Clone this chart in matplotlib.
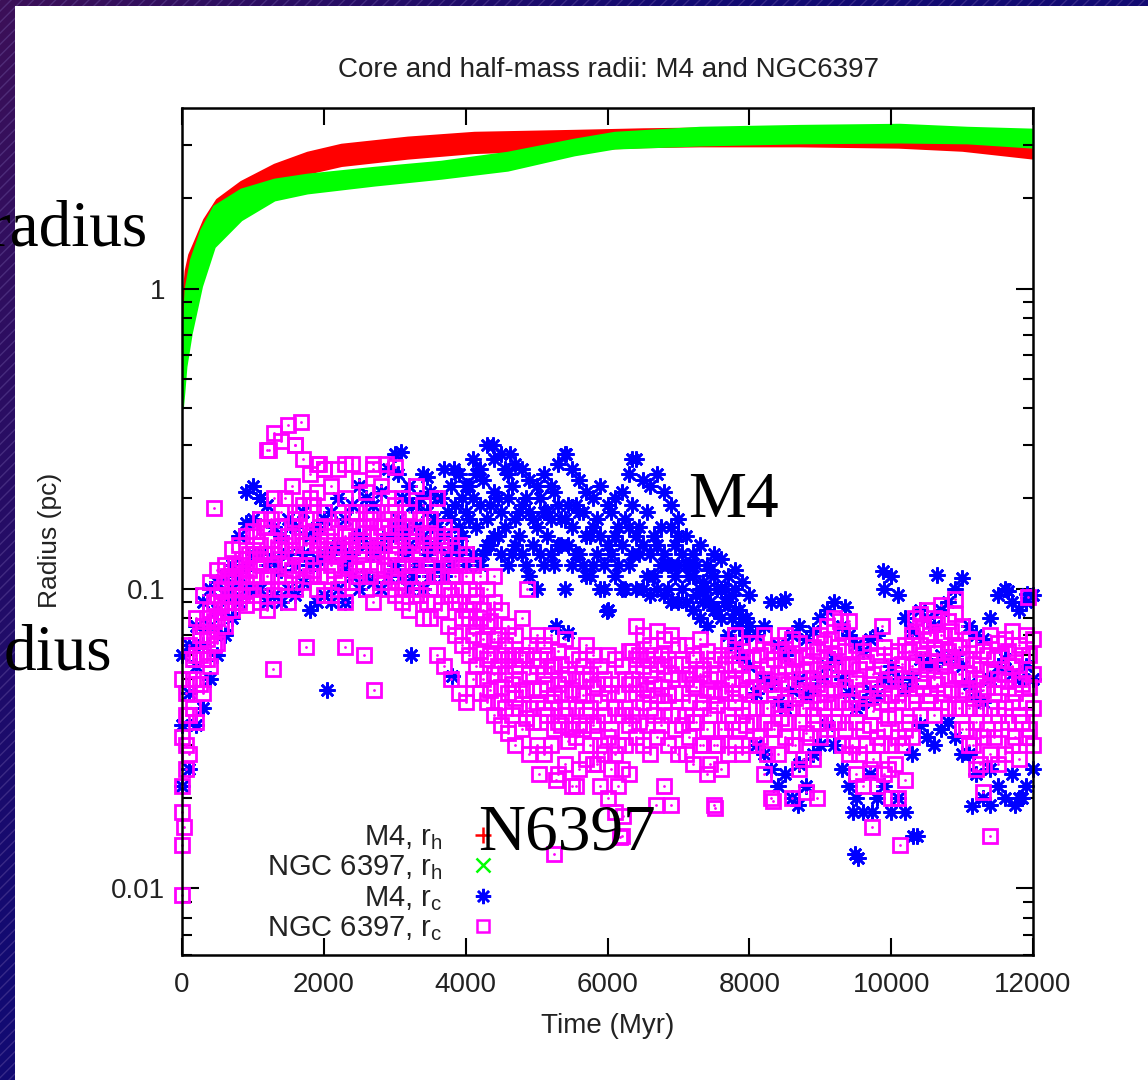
# Core and half-mass radii of M4 and NGC 6397 (gnuplot style slide)

import numpy as np
import matplotlib.pyplot as plt
from matplotlib.patches import Rectangle
from matplotlib.lines import Line2D
from matplotlib.ticker import FixedLocator, NullFormatter, FixedFormatter

plt.rcParams['font.family'] = ['Liberation Sans', 'DejaVu Sans']

# half-mass radius bands (lower / upper edge of the dense point band), pc
m4_rh_t = [0, 20, 50, 100, 170, 310, 490, 830, 1300, 1765, 2245, 3180, 4120,
           5530, 6500, 7300, 8700, 10100, 11000, 12000]
m4_rh_hi = [0.62, 0.95, 1.15, 1.30, 1.42, 1.70, 1.98, 2.27, 2.59, 2.84, 3.02,
            3.19, 3.31, 3.36, 3.40, 3.42, 3.44, 3.42, 3.38, 3.30]
m4_rh_lo = [0.55, 0.80, 0.98, 1.12, 1.22, 1.45, 1.70, 1.95, 2.22, 2.43, 2.58,
            2.73, 2.85, 2.92, 2.98, 3.00, 3.00, 2.97, 2.90, 2.73]

n6397_rh_t = [0, 20, 50, 125, 270, 450, 830, 1300, 1765, 2710, 3650, 4590,
              5530, 6100, 7300, 8710, 10120, 11070, 12000]
n6397_rh_hi = [0.48, 0.75, 1.00, 1.25, 1.57, 1.88, 2.14, 2.31, 2.40, 2.53, 2.65,
               2.84, 3.14, 3.31, 3.44, 3.49, 3.52, 3.44, 3.39]
n6397_rh_lo = [0.40, 0.45, 0.55, 0.71, 1.02, 1.38, 1.70, 1.98, 2.09, 2.22, 2.34,
               2.49, 2.80, 2.95, 3.02, 3.07, 3.09, 3.07, 2.97]

# core radius snapshots, every 100 Myr (0..12000) and offset ones (50..11950)
t_grid = np.arange(0, 12001, 100)
t_half = np.arange(50, 12000, 100)
t_cloud = np.arange(3050, 8000, 100)

m4_rc_a = [0.06, 0.065, 0.075, 0.09, 0.1, 0.105, 0.11, 0.12, 0.15, 0.165, 0.17,
           0.2, 0.19, 0.16, 0.15, 0.17, 0.16, 0.18, 0.15, 0.16, 0.17,
           0.18, 0.2, 0.17, 0.19, 0.22, 0.2, 0.19, 0.21, 0.25, 0.28,
           0.2, 0.22, 0.19, 0.24, 0.21, 0.2, 0.25, 0.22, 0.24, 0.22,
           0.27, 0.25, 0.3, 0.27, 0.28, 0.24, 0.26, 0.25, 0.23, 0.22,
           0.24, 0.22, 0.26, 0.28, 0.25, 0.23, 0.21, 0.2, 0.22, 0.19,
           0.2, 0.21, 0.24, 0.27, 0.23, 0.22, 0.24, 0.21, 0.19, 0.17,
           0.15, 0.13, 0.14, 0.12, 0.13, 0.125, 0.11, 0.1, 0.105, 0.095,
           0.07, 0.075, 0.09, 0.065, 0.06, 0.07, 0.075, 0.068, 0.072, 0.08,
           0.085, 0.09, 0.075, 0.07, 0.065, 0.062, 0.068, 0.07, 0.1, 0.11,
           0.095, 0.08, 0.072, 0.085, 0.08, 0.075, 0.085, 0.09, 0.1, 0.108,
           0.075, 0.07, 0.068, 0.08, 0.095, 0.1, 0.09, 0.085, 0.09, 0.095]
m4_rc_b = [0.035, 0.045, 0.055, 0.065, 0.075, 0.085, 0.095, 0.1, 0.11, 0.12, 0.13,
           0.13, 0.12, 0.125, 0.115, 0.13, 0.12, 0.13, 0.12, 0.125, 0.13,
           0.13, 0.14, 0.12, 0.13, 0.15, 0.14, 0.13, 0.14, 0.15, 0.16,
           0.15, 0.14, 0.16, 0.15, 0.14, 0.16, 0.15, 0.17, 0.16, 0.18,
           0.2, 0.19, 0.17, 0.21, 0.18, 0.2, 0.17, 0.19, 0.18, 0.16,
           0.18, 0.17, 0.19, 0.17, 0.16, 0.18, 0.15, 0.16, 0.15, 0.14,
           0.15, 0.14, 0.16, 0.15, 0.14, 0.13, 0.14, 0.13, 0.12, 0.12,
           0.12, 0.11, 0.1, 0.1, 0.11, 0.1, 0.09, 0.085, 0.08, 0.075,
           0.045, 0.05, 0.048, 0.042, 0.04, 0.046, 0.05, 0.044, 0.046, 0.05,
           0.055, 0.058, 0.05, 0.045, 0.04, 0.042, 0.046, 0.044, 0.05, 0.055,
           0.05, 0.046, 0.05, 0.058, 0.056, 0.055, 0.06, 0.058, 0.06, 0.055,
           0.048, 0.044, 0.042, 0.05, 0.055, 0.058, 0.052, 0.05, 0.055, 0.05]
m4_rc_c = [0.022, 0.025, 0.035, 0.04, 0.05, 0.06, 0.07, 0.08, 0.09, 0.1, 0.1,
           0.1, 0.09, 0.095, 0.09, 0.1, 0.095, 0.105, 0.085, 0.09, 0.095,
           0.09, 0.1, 0.09, 0.11, 0.1, 0.11, 0.105, 0.1, 0.11, 0.12,
           0.11, 0.1, 0.12, 0.1, 0.11, 0.12, 0.11, 0.12, 0.13, 0.12,
           0.13, 0.12, 0.14, 0.15, 0.13, 0.12, 0.14, 0.13, 0.11, 0.1,
           0.12, 0.13, 0.14, 0.1, 0.12, 0.13, 0.11, 0.12, 0.1, 0.085,
           0.11, 0.1, 0.12, 0.1, 0.1, 0.095, 0.1, 0.095, 0.09, 0.09,
           0.09, 0.085, 0.08, 0.075, 0.085, 0.08, 0.07, 0.065, 0.06, 0.055,
           0.03, 0.028, 0.025, 0.022, 0.024, 0.02, 0.026, 0.022, 0.028, 0.03,
           0.035, 0.03, 0.025, 0.022, 0.02, 0.018, 0.024, 0.02, 0.022, 0.018,
           0.02, 0.018, 0.028, 0.035, 0.032, 0.03, 0.034, 0.036, 0.032, 0.028,
           0.028, 0.024, 0.02, 0.025, 0.022, 0.02, 0.024, 0.02, 0.022, 0.025]
m4_rc_cloud = [0.17, 0.13, 0.19, 0.12, 0.18, 0.14, 0.2, 0.13, 0.19, 0.15,
               0.22, 0.16, 0.23, 0.14, 0.2, 0.16, 0.22, 0.15, 0.2, 0.14,
               0.2, 0.15, 0.21, 0.14, 0.19, 0.13, 0.18, 0.11, 0.17, 0.12,
               0.18, 0.12, 0.17, 0.19, 0.13, 0.18, 0.11, 0.16, 0.12, 0.14,
               0.13, 0.11, 0.12, 0.09, 0.115, 0.1, 0.09, 0.08, 0.085, 0.07]
m4_rc_cloud2 = [0.24, 0.16, 0.11, 0.2, 0.13, 0.17, 0.12, 0.18, 0.14, 0.2,
                0.17, 0.24, 0.13, 0.19, 0.15, 0.25, 0.13, 0.18, 0.12, 0.17,
                0.13, 0.18, 0.12, 0.17, 0.14, 0.19, 0.12, 0.15, 0.13, 0.1,
                0.13, 0.16, 0.1, 0.13, 0.16, 0.11, 0.15, 0.12, 0.1, 0.11,
                0.1, 0.12, 0.095, 0.105, 0.09, 0.085, 0.1, 0.095, 0.075, 0.08]
m4_rc_odd_t = [900, 1000, 1100, 2050, 3090, 3230, 3460, 3810, 3840, 4380, 4620,
               5280, 5420, 5450, 5990, 6340, 6900, 7000, 7800, 8450, 8500, 8680,
               9350, 9460, 9490, 9530, 9730, 9890, 10310, 10370, 10650, 11140,
               11400, 11650, 11750, 11850, 11920]
m4_rc_odd = [0.21, 0.22, 0.2, 0.046, 0.286, 0.06, 0.235, 0.051, 0.25, 0.3, 0.28,
             0.075, 0.28, 0.071, 0.084, 0.27, 0.16, 0.15, 0.115, 0.09, 0.092, 0.019,
             0.087, 0.018, 0.013, 0.0126, 0.018, 0.114, 0.015, 0.015, 0.111, 0.0188,
             0.019, 0.098, 0.019, 0.02, 0.096]

n6397_rc_a = [0.05, 0.065, 0.08, 0.095, 0.105, 0.115, 0.12, 0.135, 0.14, 0.15, 0.155,
              0.17, 0.29, 0.33, 0.31, 0.35, 0.3, 0.27, 0.24, 0.26, 0.25,
              0.22, 0.25, 0.2, 0.26, 0.23, 0.21, 0.25, 0.22, 0.2, 0.19,
              0.2, 0.18, 0.22, 0.19, 0.17, 0.2, 0.16, 0.15, 0.14, 0.13,
              0.12, 0.11, 0.1, 0.09, 0.085, 0.075, 0.07, 0.08, 0.065, 0.07,
              0.065, 0.07, 0.062, 0.068, 0.06, 0.058, 0.065, 0.06, 0.055, 0.06,
              0.058, 0.055, 0.062, 0.075, 0.07, 0.065, 0.072, 0.068, 0.07, 0.065,
              0.065, 0.06, 0.068, 0.062, 0.058, 0.06, 0.065, 0.07, 0.062, 0.066,
              0.066, 0.07, 0.062, 0.065, 0.07, 0.068, 0.066, 0.06, 0.064, 0.07,
              0.075, 0.08, 0.072, 0.078, 0.065, 0.062, 0.066, 0.06, 0.064, 0.06,
              0.062, 0.065, 0.07, 0.082, 0.085, 0.08, 0.088, 0.078, 0.082, 0.075,
              0.068, 0.065, 0.062, 0.07, 0.066, 0.068, 0.072, 0.065, 0.07, 0.068]
n6397_rc_b = [0.032, 0.05, 0.06, 0.075, 0.085, 0.095, 0.105, 0.11, 0.12, 0.125, 0.13,
              0.14, 0.16, 0.2, 0.18, 0.15, 0.17, 0.19, 0.2, 0.21, 0.18,
              0.16, 0.17, 0.15, 0.18, 0.16, 0.17, 0.18, 0.16, 0.17, 0.16,
              0.15, 0.14, 0.16, 0.15, 0.14, 0.15, 0.13, 0.12, 0.12, 0.11,
              0.09, 0.08, 0.075, 0.068, 0.06, 0.058, 0.055, 0.06, 0.052, 0.055,
              0.052, 0.055, 0.048, 0.05, 0.046, 0.045, 0.05, 0.047, 0.042, 0.045,
              0.04, 0.038, 0.048, 0.058, 0.055, 0.052, 0.056, 0.055, 0.052, 0.05,
              0.05, 0.048, 0.052, 0.046, 0.044, 0.046, 0.05, 0.054, 0.05, 0.052,
              0.052, 0.05, 0.048, 0.052, 0.055, 0.053, 0.05, 0.046, 0.05, 0.054,
              0.058, 0.06, 0.056, 0.055, 0.05, 0.046, 0.048, 0.045, 0.048, 0.044,
              0.045, 0.048, 0.055, 0.065, 0.068, 0.064, 0.07, 0.062, 0.065, 0.058,
              0.052, 0.05, 0.046, 0.053, 0.05, 0.052, 0.055, 0.05, 0.054, 0.052]
n6397_rc_c = [0.022, 0.038, 0.048, 0.058, 0.07, 0.08, 0.09, 0.1, 0.1, 0.105, 0.11,
              0.12, 0.11, 0.13, 0.14, 0.12, 0.13, 0.14, 0.15, 0.14, 0.13,
              0.12, 0.13, 0.12, 0.14, 0.13, 0.14, 0.13, 0.14, 0.12, 0.13,
              0.12, 0.11, 0.12, 0.11, 0.1, 0.11, 0.1, 0.095, 0.09, 0.085,
              0.07, 0.062, 0.058, 0.052, 0.047, 0.045, 0.043, 0.046, 0.04, 0.042,
              0.04, 0.042, 0.036, 0.038, 0.034, 0.035, 0.038, 0.035, 0.03, 0.032,
              0.028, 0.025, 0.035, 0.045, 0.042, 0.04, 0.044, 0.042, 0.038, 0.038,
              0.038, 0.036, 0.04, 0.034, 0.03, 0.034, 0.038, 0.042, 0.038, 0.04,
              0.04, 0.036, 0.034, 0.04, 0.042, 0.04, 0.036, 0.033, 0.038, 0.042,
              0.045, 0.046, 0.042, 0.04, 0.036, 0.034, 0.035, 0.032, 0.034, 0.03,
              0.032, 0.034, 0.042, 0.05, 0.054, 0.05, 0.055, 0.05, 0.052, 0.045,
              0.04, 0.036, 0.032, 0.04, 0.038, 0.04, 0.042, 0.038, 0.042, 0.04]
n6397_rc_d = [0.014, 0.028, 0.036, 0.045, 0.055, 0.066, 0.075, 0.085, 0.09, 0.088, 0.095,
              0.09, 0.085, 0.095, 0.1, 0.09, 0.1, 0.105, 0.11, 0.1, 0.095,
              0.095, 0.1, 0.09, 0.105, 0.11, 0.1, 0.09, 0.105, 0.1, 0.095,
              0.09, 0.085, 0.095, 0.08, 0.08, 0.06, 0.055, 0.05, 0.045, 0.042,
              0.05, 0.045, 0.042, 0.038, 0.035, 0.033, 0.03, 0.034, 0.028, 0.03,
              0.028, 0.03, 0.024, 0.026, 0.022, 0.025, 0.027, 0.026, 0.022, 0.02,
              0.018, 0.015, 0.024, 0.032, 0.03, 0.028, 0.032, 0.022, 0.019, 0.028,
              0.028, 0.026, 0.03, 0.024, 0.019, 0.025, 0.028, 0.03, 0.028, 0.03,
              0.03, 0.024, 0.02, 0.028, 0.032, 0.03, 0.025, 0.021, 0.027, 0.032,
              0.034, 0.036, 0.03, 0.028, 0.024, 0.022, 0.025, 0.022, 0.024, 0.02,
              0.02, 0.023, 0.032, 0.038, 0.042, 0.038, 0.042, 0.04, 0.04, 0.034,
              0.03, 0.025, 0.021, 0.028, 0.026, 0.028, 0.03, 0.027, 0.032, 0.03]
n6397_rc_e = [0.045, 0.058, 0.07, 0.08, 0.09, 0.1, 0.11, 0.12, 0.125, 0.13,
              0.15, 0.16, 0.17, 0.16, 0.2, 0.22, 0.18, 0.17, 0.19, 0.16,
              0.15, 0.14, 0.17, 0.15, 0.18, 0.16, 0.17, 0.15, 0.16, 0.18,
              0.17, 0.16, 0.14, 0.17, 0.15, 0.13, 0.14, 0.12, 0.11, 0.1,
              0.1, 0.095, 0.085, 0.078, 0.07, 0.065, 0.06, 0.058, 0.06, 0.058,
              0.058, 0.06, 0.055, 0.056, 0.052, 0.05, 0.055, 0.052, 0.048, 0.05,
              0.048, 0.045, 0.05, 0.062, 0.06, 0.058, 0.06, 0.06, 0.058, 0.056,
              0.056, 0.052, 0.058, 0.054, 0.05, 0.052, 0.056, 0.06, 0.056, 0.058,
              0.058, 0.06, 0.055, 0.058, 0.062, 0.06, 0.058, 0.053, 0.056, 0.062,
              0.066, 0.068, 0.064, 0.062, 0.056, 0.054, 0.057, 0.052, 0.055, 0.05,
              0.052, 0.056, 0.062, 0.072, 0.075, 0.07, 0.076, 0.07, 0.072, 0.064,
              0.058, 0.056, 0.054, 0.06, 0.058, 0.06, 0.062, 0.057, 0.06, 0.06]
n6397_rc_f = [0.03, 0.04, 0.048, 0.058, 0.065, 0.075, 0.085, 0.09, 0.095, 0.1,
              0.11, 0.1, 0.12, 0.11, 0.105, 0.115, 0.12, 0.12, 0.115, 0.11,
              0.11, 0.115, 0.105, 0.12, 0.115, 0.12, 0.11, 0.12, 0.115, 0.11,
              0.105, 0.1, 0.1, 0.095, 0.09, 0.09, 0.085, 0.075, 0.07, 0.065,
              0.06, 0.055, 0.05, 0.046, 0.042, 0.04, 0.038, 0.04, 0.037, 0.036,
              0.036, 0.038, 0.034, 0.035, 0.031, 0.032, 0.034, 0.03, 0.026, 0.028,
              0.025, 0.022, 0.03, 0.038, 0.036, 0.035, 0.038, 0.035, 0.03, 0.034,
              0.035, 0.032, 0.036, 0.03, 0.026, 0.03, 0.034, 0.036, 0.034, 0.035,
              0.036, 0.032, 0.028, 0.034, 0.037, 0.036, 0.03, 0.027, 0.032, 0.036,
              0.04, 0.042, 0.036, 0.034, 0.03, 0.028, 0.03, 0.027, 0.03, 0.025,
              0.026, 0.03, 0.036, 0.044, 0.047, 0.044, 0.048, 0.045, 0.046, 0.04,
              0.034, 0.03, 0.026, 0.034, 0.032, 0.034, 0.036, 0.032, 0.036, 0.034]
n6397_rc_g = [0.038, 0.05, 0.06, 0.068, 0.078, 0.088, 0.095, 0.105, 0.11, 0.115,
              0.13, 0.13, 0.145, 0.135, 0.14, 0.15, 0.16, 0.14, 0.155, 0.145,
              0.135, 0.13, 0.14, 0.135, 0.145, 0.14, 0.15, 0.135, 0.14, 0.145,
              0.14, 0.13, 0.12, 0.13, 0.12, 0.11, 0.11, 0.1, 0.09, 0.08,
              0.08, 0.075, 0.068, 0.06, 0.055, 0.052, 0.048, 0.05, 0.046, 0.046,
              0.046, 0.048, 0.044, 0.045, 0.04, 0.04, 0.044, 0.04, 0.036, 0.038,
              0.034, 0.03, 0.04, 0.05, 0.048, 0.046, 0.048, 0.047, 0.044, 0.045,
              0.045, 0.042, 0.047, 0.042, 0.038, 0.041, 0.045, 0.048, 0.045, 0.046,
              0.047, 0.044, 0.04, 0.046, 0.049, 0.048, 0.043, 0.04, 0.044, 0.048,
              0.052, 0.054, 0.05, 0.047, 0.042, 0.04, 0.043, 0.039, 0.042, 0.037,
              0.038, 0.042, 0.048, 0.057, 0.06, 0.057, 0.061, 0.057, 0.059, 0.052,
              0.046, 0.043, 0.04, 0.047, 0.045, 0.047, 0.049, 0.045, 0.048, 0.047]
n6397_rc_odd_t = [0, 0, 30, 50, 450, 1230, 1280, 1600, 1680, 1750, 1935, 2000,
                  2300, 2300, 2560, 2700, 2710, 2870, 3000, 4400, 4870, 5040, 5250,
                  5280, 5560, 6170, 6220, 6690, 7510, 8330, 8600, 8950, 9280, 9730,
                  9870, 10120, 10340, 10900, 11400, 11930]
n6397_rc_odd = [0.0095, 0.018, 0.016, 0.025, 0.186, 0.29, 0.054, 0.3, 0.36, 0.064,
                0.26, 0.25, 0.26, 0.064, 0.06, 0.26, 0.046, 0.26, 0.255, 0.11, 0.1,
                0.024, 0.013, 0.023, 0.022, 0.0148, 0.0175, 0.019, 0.0185, 0.0195,
                0.02, 0.02, 0.078, 0.016, 0.075, 0.014, 0.08, 0.092, 0.015, 0.094]

x_ticks = [0, 2000, 4000, 6000, 8000, 10000, 12000]
y_ticks = [0.01, 0.1, 1]
y_tick_labels = ['0.01', '0.1', '1']
legend_labels = ['M4, r$_\\mathregular{h}$', 'NGC 6397, r$_\\mathregular{h}$',
                 'M4, r$_\\mathregular{c}$', 'NGC 6397, r$_\\mathregular{c}$']

W, H = 1148, 1080
fig = plt.figure(figsize=(W / 100, H / 100), dpi=100)

# slide background: purple/navy striped frame with a white panel
bg = fig.add_axes([0, 0, 1, 1], zorder=-10)
gx, gy = np.meshgrid(np.linspace(0, 1, 200), np.linspace(0, 1, 200))
s = np.clip((gx * 1.5 + gy) / 0.9, 0, 1)[..., None]
purple = np.array([0x3c, 0x10, 0x58]) / 255
navy = np.array([0x12, 0x0a, 0x72]) / 255
bg.imshow(purple * (1 - s) + navy * s, aspect='auto', extent=[0, 1, 0, 1], origin='upper')
bg.add_patch(Rectangle((0, 0), 1, 1, facecolor='none', edgecolor='#7a64b0',
                       hatch='///', lw=0, alpha=0.35))
bg.add_patch(Rectangle((15 / W, 0), 1, 1 - 6 / H, facecolor='white', lw=0))
bg.set_xlim(0, 1)
bg.set_ylim(0, 1)
bg.axis('off')

ax = fig.add_axes([182 / W, 1 - 955 / H, (1033 - 182) / W, (955 - 108) / H])
ax.set_yscale('log')

ax.fill_between(m4_rh_t, m4_rh_lo, m4_rh_hi, color='#ff0000', lw=2, edgecolor='#ff0000')
ax.fill_between(n6397_rh_t, n6397_rh_lo, n6397_rh_hi, color='#00ff00', lw=2,
                edgecolor='#00ff00')

star = dict(ls='none', marker=(8, 2, 0), ms=11.5, mew=1.9, color='#0000ff', clip_on=False)
for t, r in [(t_grid, m4_rc_a), (t_grid, m4_rc_b), (t_grid, m4_rc_c),
             (t_cloud, m4_rc_cloud), (t_cloud, m4_rc_cloud2), (m4_rc_odd_t, m4_rc_odd)]:
    ax.plot(t, r, **star)

box = dict(ls='none', marker='s', ms=9.5, mew=2.0, mfc='none', mec='#ff00ff', clip_on=False)
dot = dict(ls='none', marker='.', ms=2, color='#ff00ff', clip_on=False)
for t, r in [(t_grid, n6397_rc_a), (t_grid, n6397_rc_b), (t_grid, n6397_rc_c),
             (t_grid, n6397_rc_d), (t_half, n6397_rc_e), (t_half, n6397_rc_f),
             (t_half, n6397_rc_g), (n6397_rc_odd_t, n6397_rc_odd)]:
    ax.plot(t, r, **box)
    ax.plot(t, r, **dot)

ax.set_xlim(0, 12000)
ax.set_ylim(0.006, 4.0)
ax.xaxis.set_major_locator(FixedLocator(x_ticks))
ax.yaxis.set_major_locator(FixedLocator(y_ticks))
ax.yaxis.set_major_formatter(FixedFormatter(y_tick_labels))
ax.yaxis.set_minor_locator(FixedLocator([0.006, 0.007, 0.008, 0.009, 0.02, 0.03, 0.04,
                                         0.05, 0.06, 0.07, 0.08, 0.09, 0.2, 0.3, 0.4,
                                         0.5, 0.6, 0.7, 0.8, 0.9, 2, 3]))
ax.yaxis.set_minor_formatter(NullFormatter())
ax.tick_params(which='both', direction='in', top=True, right=True, width=1.5,
               labelsize=20, labelcolor='#222222', pad=12)
ax.tick_params(which='major', length=12)
ax.tick_params(which='minor', length=7)
for sp in ax.spines.values():
    sp.set_linewidth(1.8)

handles = [Line2D([], [], ls='none', marker='+', ms=12, mew=1.8, color='#ff0000'),
           Line2D([], [], ls='none', marker='x', ms=10, mew=1.8, color='#00ff00'),
           Line2D([], [], ls='none', marker=(8, 2, 0), ms=11, mew=1.8, color='#0000ff'),
           Line2D([], [], ls='none', marker='s', ms=9, mew=1.8, mfc='none', mec='#ff00ff')]
leg = ax.legend(handles, legend_labels, loc='lower right', bbox_to_anchor=(0.385, 0.0),
                frameon=False, markerfirst=False, fontsize=21, labelspacing=0.06,
                handlelength=1.0, handletextpad=0.9, borderaxespad=0.0)
for txt in leg.get_texts():
    txt.set_ha('right')
    txt.set_color('#222222')

fig.text(608 / W, 1 - 70 / H, 'Core and half-mass radii: M4 and NGC6397',
         ha='center', va='center', fontsize=20, color='#222222')
fig.text(608 / W, 1 - 1026 / H, 'Time (Myr)', ha='center', va='center',
         fontsize=20, color='#222222')
fig.text(50 / W, 1 - 540 / H, 'Radius (pc)', ha='center', va='center',
         rotation=90, fontsize=19, color='#222222')

# annotations typed over the slide
serif = dict(family='Liberation Serif', fontsize=47, color='black', zorder=20)
fig.text(148 / W, 1 - 246 / H, 'radius', ha='right', va='baseline', **serif)
fig.text(112 / W, 1 - 669 / H, 'dius', ha='right', va='baseline', **serif)
fig.text(688 / W, 1 - 517 / H, 'M4', ha='left', va='baseline', **serif)
fig.text(478 / W, 1 - 850 / H, 'N6397', ha='left', va='baseline', **serif)

fig.savefig('out.png', dpi=100)
